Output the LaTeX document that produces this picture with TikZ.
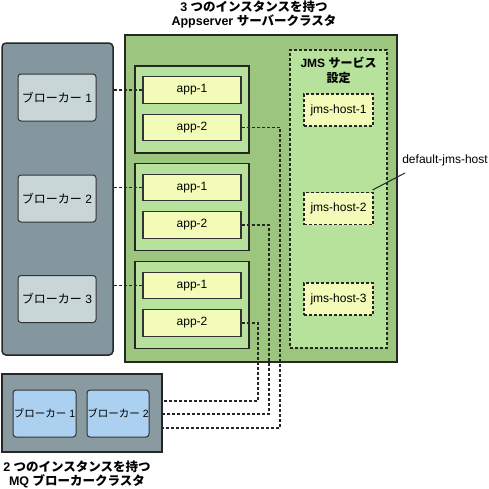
\documentclass[tikz,border=0pt]{standalone}
\usepackage{fontspec}
\setmainfont{Liberation Sans}
\newfontfamily\cjk{Noto Sans CJK JP}
\usetikzlibrary{positioning}

\definecolor{srvgreen}{RGB}{156,198,126}
\definecolor{instgreen}{RGB}{182,226,155}
\definecolor{appyellow}{RGB}{242,252,184}
\definecolor{slate}{RGB}{132,151,159}
\definecolor{brkgray}{RGB}{200,214,216}
\definecolor{brkblue}{RGB}{171,208,240}
\definecolor{mqgray}{RGB}{137,154,161}

\begin{document}
\begin{tikzpicture}[x=1pt,y=-1pt,font=\fontsize{12}{14}\selectfont,
    cluster/.style={draw=black!85, line width=1.5pt, inner sep=0pt},
    inst/.style={draw=black!85, line width=1.6pt, fill=instgreen, minimum width=114pt, minimum height=87pt, inner sep=0pt},
    appbox/.style={draw=black!80, line width=1.2pt, fill=appyellow, minimum width=98pt, minimum height=26.5pt, inner sep=0pt},
    broker/.style={draw=black!80, line width=1pt, rounded corners=3pt, minimum height=47pt, inner sep=0pt},
    hostbox/.style={draw=black!85, line width=1.1pt, dash pattern=on 3pt off 2pt, fill=appyellow, minimum width=69pt, minimum height=32pt, inner sep=0pt},
    link/.style={black!85, line width=1.1pt, dash pattern=on 3pt off 2pt}]
\useasboundingbox (0,0) rectangle (489,488);

% clusters
\node[cluster, fill=slate, rounded corners=4pt, minimum width=111pt, minimum height=312pt] (grp) at (57.5,199) {};
\node[cluster, fill=srvgreen, minimum width=272pt, minimum height=327pt] (srv) at (261,198.5) {};
\node[cluster, fill=mqgray, minimum width=160pt, minimum height=78pt] (mq) at (82,413) {};
\node[draw=black!85, line width=1.1pt, dash pattern=on 3pt off 2pt, fill=instgreen, minimum width=97pt, minimum height=298pt] (jms) at (338.5,199) {};

% titles
\node[align=center, font=\fontsize{12.5}{14}\selectfont\bfseries] (srvtitle) at (254,14) {3 {\cjk つのインスタンスを持つ}\\Appserver {\cjk サーバークラスタ}};
\node[align=center, font=\fontsize{12.5}{14}\selectfont\bfseries] (mqtitle) at (77,474) {2 {\cjk つのインスタンスを持つ}\\MQ {\cjk ブローカークラスタ}};
\node[align=center, font=\fontsize{12}{15}\selectfont\bfseries] (jmstitle) at (338.5,70) {JMS {\cjk サービス}\\{\cjk 設定}};

% brokers
\foreach \i/\y in {1/97.5,2/198.5,3/299}
    \node[broker, fill=brkgray, minimum width=78pt] (b\i) at (57,\y) {{\cjk ブローカー} \i};
\node[broker, fill=brkblue, minimum width=63pt, font=\fontsize{10.5}{12}\selectfont] (m1) at (44.5,413.5) {{\cjk ブローカー} 1};
\node[broker, fill=brkblue, minimum width=62pt, font=\fontsize{10.5}{12}\selectfont] (m2) at (118,413.5) {{\cjk ブローカー} 2};

% server instances
\foreach \i/\y in {1/109.5,2/207,3/305} {
    \node[inst] (i\i) at (192,\y) {};
    \node[appbox] (a\i1) at (192,\y-19.5) {app-1};
    \node[appbox] (a\i2) at (192,\y+18) {app-2};
}

% jms hosts
\foreach \i/\y in {1/110,2/208.5,3/299}
    \node[hostbox] (h\i) at (338.5,\y) {jms-host-\i};

\node (dflt) at (445,160) {default-jms-host};
\coordinate (dfltend) at (405,173);
\draw[black!85, line width=1pt] (dfltend) -- ([shift={(-1pt,2pt)}]h2.north east);

% links
\foreach \i in {1,2,3}
    \draw[link] (a\i1.west) -- (a\i1.west -| grp.east);
\foreach \i/\x/\y in {1/280/428,2/269/414,3/258/401} {
    \coordinate (k\i) at (\x,\y);
    \draw[link] (a\i2.east) -| (k\i) -- (k\i -| mq.east);
}
\end{tikzpicture}
\end{document}
